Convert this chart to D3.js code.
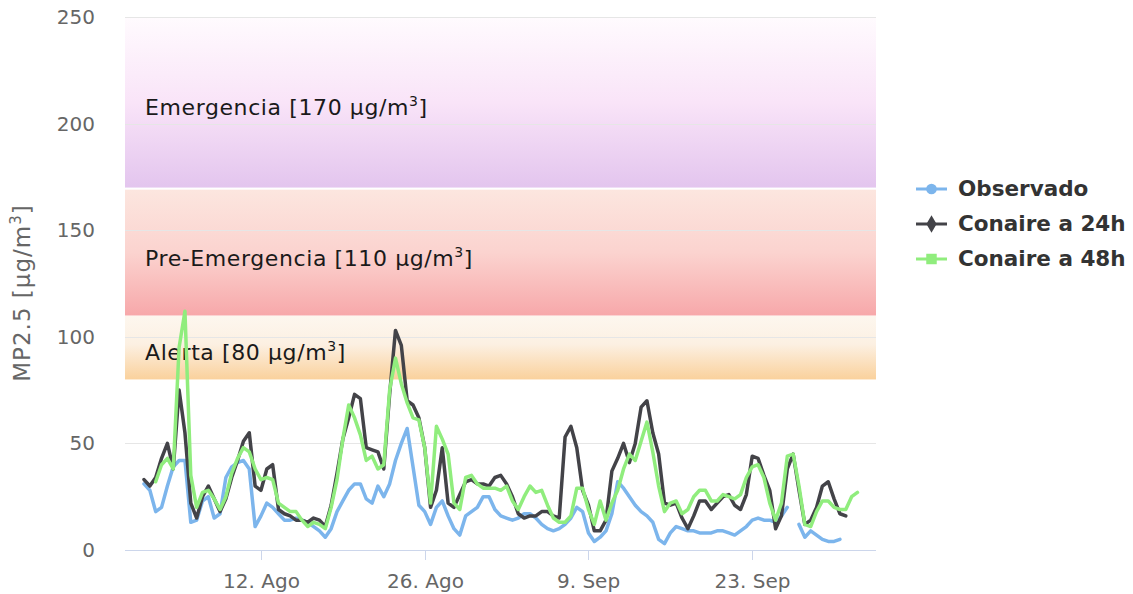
<!DOCTYPE html>
<html>
<head>
<meta charset="UTF-8">
<title>MP2.5 pronóstico</title>
<style>
  body { margin: 0; background: #fff; font-family: "DejaVu Sans", "Lucida Grande", sans-serif; }
</style>
</head>
<body>
<svg id="chart"></svg>
<script src="https://d3js.org/d3.v7.min.js"></script>
<script>
// --- data (12 h steps starting 2 Aug) ---
const startDate = Date.UTC(2019, 7, 2);
const observado = [31,28,18,20,30,39,42,42,13,14,
  23,25,15,17,34,39,41,42,38,11,
  16,22,20,17,14,14,15,14,13,11,
  9,6,10,18,23,28,31,31,24,22,
  30,25,31,42,50,57,39,21,18,12,
  20,23,16,10,7,16,18,20,25,25,
  19,16,15,14,15,17,17,15,12,10,
  9,10,12,15,20,18,8,4,6,9,
  17,32,29,25,21,18,16,13,5,3,
  8,11,10,9,9,8,8,8,9,9,
  8,7,9,11,14,15,14,14,13,16,
  20,null,12,6,9,7,5,4,4,5,
  null,null,null];
const conaire24 = [33,30,34,43,50,38,75,55,22,15,
  25,30,24,18,24,34,42,51,55,30,
  28,38,40,19,17,16,14,14,13,15,
  14,11,21,36,52,62,73,71,48,47,
  46,38,73,103,96,70,68,62,48,20,
  28,48,22,20,26,32,33,31,31,30,
  34,35,31,25,17,15,16,16,18,18,
  16,15,53,58,48,28,21,9,9,14,
  37,43,50,41,50,67,70,55,45,22,
  21,22,15,10,16,23,23,19,22,25,
  26,21,19,26,44,43,35,28,10,16,
  38,45,28,12,14,20,30,32,24,17,
  16,null,null];
const conaire48 = [null,null,32,40,43,38,95,112,35,20,
  27,28,24,19,25,36,43,48,46,38,
  33,34,33,22,20,18,18,14,11,13,
  12,10,20,33,52,68,62,54,42,44,
  38,40,75,90,78,69,62,61,48,22,
  58,52,45,22,19,34,35,31,29,29,
  29,28,30,23,19,25,30,27,28,21,
  15,13,13,16,29,29,19,12,23,14,
  22,28,38,45,42,51,60,46,30,18,
  22,23,17,19,25,28,28,23,23,26,
  25,24,26,34,39,40,34,22,14,22,
  44,45,30,12,11,18,23,23,20,19,
  19,25,27];

const seriesNames = ["Observado", "Conaire a 24h", "Conaire a 48h"];
const seriesColors = ["#7cb5ec", "#434348", "#90ed7d"];
const seriesSymbols = [d3.symbolCircle, d3.symbolDiamond, d3.symbolSquare];

const bandNames = ["Alerta", "Pre-Emergencia", "Emergencia"];
const bandLimits = ["80", "110", "170"];
const bandFrom = [80, 110, 170];
const bandTo = [110, 169, 250];

const yTicks = [0, 50, 100, 150, 200, 250];
const xTickDates = [Date.UTC(2019, 7, 12), Date.UTC(2019, 7, 26), Date.UTC(2019, 8, 9), Date.UTC(2019, 8, 23)];
const xTickLabels = ["12. Ago", "26. Ago", "9. Sep", "23. Sep"];

const times = observado.map((_, i) => new Date(startDate + i * 12 * 3600 * 1000));

// --- layout ---
const width = 1133, height = 594;
const plot = { left: 125, right: 876, top: 17, bottom: 550 };

const svg = d3.select("#chart").attr("width", width).attr("height", height);

const x = d3.scaleUtc()
  .domain([new Date(Date.UTC(2019, 6, 31, 9)), new Date(Date.UTC(2019, 9, 3, 14))])
  .range([plot.left, plot.right]);
const y = d3.scaleLinear().domain([0, 250]).range([plot.bottom, plot.top]);

// gradients for bands
const defs = svg.append("defs");
const gradStops = [
  [["0", "#fdf7ef"], ["0.45", "#fcf0e2"], ["1", "#fad19c"]],
  [["0", "#fce6df"], ["0.5", "#fbd3cf"], ["1", "#f7a8aa"]],
  [["0", "#fffbfe"], ["0.5", "#f9e4f8"], ["1", "#e3c5ee"]]
];
gradStops.forEach((stops, i) => {
  const g = defs.append("linearGradient").attr("id", "band" + i)
    .attr("x1", 0).attr("y1", 0).attr("x2", 0).attr("y2", 1);
  stops.forEach(s => g.append("stop").attr("offset", s[0]).attr("stop-color", s[1]));
});

// bands
const bands = svg.append("g");
bandNames.forEach((name, i) => {
  bands.append("rect")
    .attr("x", plot.left)
    .attr("width", plot.right - plot.left)
    .attr("y", y(bandTo[i]))
    .attr("height", y(bandFrom[i]) - y(bandTo[i]))
    .attr("fill", "url(#band" + i + ")");
});

// grid lines
svg.append("g").selectAll("line")
  .data(yTicks.filter(d => d > 0))
  .enter().append("line")
  .attr("x1", plot.left).attr("x2", plot.right)
  .attr("y1", d => Math.round(y(d)) + 0.5).attr("y2", d => Math.round(y(d)) + 0.5)
  .attr("stroke", "#e6e6e6").attr("stroke-width", 1);

// band labels
bandNames.forEach((name, i) => {
  const t = svg.append("text")
    .attr("x", 145)
    .attr("y", (y(bandFrom[i]) + y(bandTo[i])) / 2 + 13)
    .attr("font-size", 22)
    .attr("letter-spacing", 0.6)
    .attr("fill", "#1a1a1a");
  t.append("tspan").text(name + " [" + bandLimits[i] + " µg/m");
  t.append("tspan").attr("font-size", 14).attr("dy", -9).text("3");
  t.append("tspan").attr("dy", 9).text("]");
});

// y axis labels
svg.append("g").selectAll("text")
  .data(yTicks)
  .enter().append("text")
  .attr("x", 95)
  .attr("y", d => y(d) + 7)
  .attr("text-anchor", "end")
  .attr("font-size", 20)
  .attr("fill", "#666")
  .text(d => d);

const yTitle = svg.append("text")
  .attr("transform", "translate(30," + 293 + ") rotate(-90)")
  .attr("text-anchor", "middle")
  .attr("font-size", 23)
  .attr("letter-spacing", 1)
  .attr("fill", "#666");
yTitle.append("tspan").text("MP2.5 [µg/m");
yTitle.append("tspan").attr("font-size", 15).attr("dy", -9).text("3");
yTitle.append("tspan").attr("dy", 9).text("]");

// x axis
svg.append("line")
  .attr("x1", plot.left).attr("x2", plot.right)
  .attr("y1", plot.bottom + 0.5).attr("y2", plot.bottom + 0.5)
  .attr("stroke", "#ccd6eb");
const xt = svg.append("g").selectAll("g")
  .data(xTickDates)
  .enter().append("g")
  .attr("transform", d => "translate(" + (Math.round(x(new Date(d))) + 0.5) + ",0)");
xt.append("line")
  .attr("y1", plot.bottom).attr("y2", plot.bottom + 10)
  .attr("stroke", "#ccd6eb");
xt.append("text")
  .attr("y", 588)
  .attr("text-anchor", "middle")
  .attr("font-size", 20)
  .attr("fill", "#666")
  .text((d, i) => xTickLabels[i]);

// lines
const line = d3.line()
  .defined(d => d.v != null)
  .x(d => x(d.t))
  .y(d => y(d.v));

[observado, conaire24, conaire48].forEach((vals, s) => {
  const data = vals.map((v, i) => ({ t: times[i], v: v }));
  svg.append("path")
    .datum(data)
    .attr("fill", "none")
    .attr("stroke", seriesColors[s])
    .attr("stroke-width", 3.5)
    .attr("stroke-linejoin", "round")
    .attr("stroke-linecap", "round")
    .attr("d", line);
});

// legend
const legend = svg.append("g");
const legendY = [189, 224, 259];
seriesNames.forEach((name, i) => {
  const g = legend.append("g").attr("transform", "translate(0," + legendY[i] + ")");
  g.append("line")
    .attr("x1", 916).attr("x2", 947)
    .attr("stroke", seriesColors[i]).attr("stroke-width", 3);
  g.append("path")
    .attr("transform", "translate(931.5,0)")
    .attr("d", d3.symbol().type(seriesSymbols[i]).size(i === 2 ? 110 : 90)())
    .attr("fill", seriesColors[i]);
  g.append("text")
    .attr("x", 958)
    .attr("y", 7)
    .attr("font-size", 21.5)
    .attr("font-weight", "bold")
    .attr("fill", "#333")
    .text(name);
});
</script>
</body>
</html>
